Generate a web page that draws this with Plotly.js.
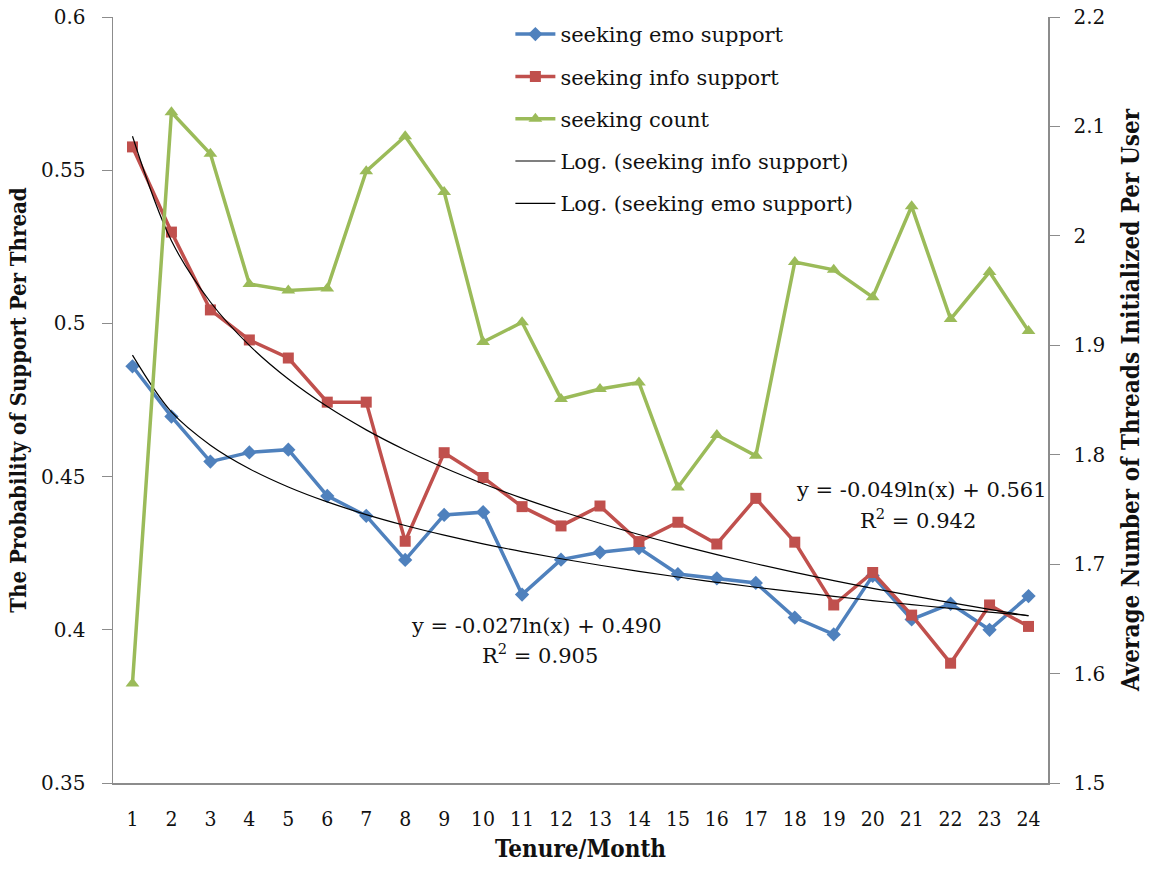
<!DOCTYPE html>
<html>
<head>
<meta charset="utf-8">
<script src="https://cdn.plot.ly/plotly-3.0.1.min.js"></script>
<style>html,body{margin:0;padding:0;background:#fff;}#chart{width:1152px;height:869px;}</style>
</head>
<body>
<div id="chart"></div>
<script>
// ---- data ----
const months = [1,2,3,4,5,6,7,8,9,10,11,12,13,14,15,16,17,18,19,20,21,22,23,24];
const emoSupport = [0.486,0.4696,0.4549,0.4579,0.4588,0.4437,0.4372,0.4228,0.4375,0.4384,0.4115,0.4229,0.4253,0.4267,0.4182,0.4168,0.4153,0.404,0.3985,0.4176,0.4034,0.4085,0.4,0.411];
const infoSupport = [0.5576,0.5298,0.5044,0.4946,0.4887,0.4743,0.4743,0.4289,0.4578,0.4497,0.4402,0.4339,0.4404,0.4288,0.4351,0.428,0.4429,0.4286,0.4081,0.4187,0.4048,0.3891,0.4081,0.4011];
const seekingCount = [1.591,2.113,2.075,1.956,1.950,1.952,2.059,2.091,2.040,1.903,1.921,1.851,1.860,1.866,1.770,1.818,1.799,1.976,1.969,1.944,2.027,1.924,1.967,1.913];
const seriesNames = ["seeking emo support","seeking info support","seeking count","Log. (seeking info support)","Log. (seeking emo support)"];
const eqInfo = ["y = -0.049ln(x) + 0.561","R<sup>2</sup> = 0.942"];
const eqEmo = ["y = -0.027ln(x) + 0.490","R<sup>2</sup> = 0.905"];

// logarithmic least-squares trend (as the spreadsheet trendline does)
function logFit(xs, ys){
  const n = xs.length; const lx = xs.map(Math.log);
  const mx = lx.reduce((a,b)=>a+b,0)/n, my = ys.reduce((a,b)=>a+b,0)/n;
  let sxy=0,sxx=0; for(let i=0;i<n;i++){sxy+=(lx[i]-mx)*(ys[i]-my);sxx+=(lx[i]-mx)**2;}
  const b = sxy/sxx, a = my-b*mx;
  return xs.map(x=>a+b*Math.log(x));
}
const infoTrend = logFit(months, infoSupport);
const emoTrend = logFit(months, emoSupport);

const BLUE='#4F81BD', RED='#C0504D', GREEN='#9BBB59';
const serif = 'DejaVu Serif';
const cond = 'DejaVu Serif Condensed';

const traces = [
  {x:months,y:emoSupport,name:seriesNames[0],mode:'lines+markers',line:{color:BLUE,width:3.5},marker:{symbol:'diamond',size:11,color:BLUE},legendgroup:'a'},
  {x:months,y:infoSupport,name:seriesNames[1],mode:'lines+markers',line:{color:RED,width:3.5},marker:{symbol:'square',size:11,color:RED},legendgroup:'b'},
  {x:months,y:seekingCount,name:seriesNames[2],mode:'lines+markers',yaxis:'y2',line:{color:GREEN,width:3.5},marker:{symbol:'triangle-up',size:12,color:GREEN},legendgroup:'c'},
  {x:months,y:infoTrend,name:seriesNames[3],mode:'lines',line:{color:'#000',width:1.2,shape:'spline'},legendgroup:'d'},
  {x:months,y:emoTrend,name:seriesNames[4],mode:'lines',line:{color:'#000',width:1.2,shape:'spline'},legendgroup:'e'}
];

const axisCol = '#8c8c8c';
const layout = {
  width:1152,height:869,
  margin:{l:113,r:104,t:17,b:86},
  paper_bgcolor:'#fff',plot_bgcolor:'#fff',
  showlegend:true,
  legend:{x:0.425,y:1.004,xanchor:'left',yanchor:'top',bgcolor:'rgba(0,0,0,0)',
    font:{family:serif,size:21,color:'#111'},traceorder:'grouped',tracegroupgap:12,itemwidth:40},
  xaxis:{range:[0.5,24.5],tickmode:'array',tickvals:months,ticktext:months.map(String),
    showgrid:false,zeroline:false,showline:true,linecolor:axisCol,linewidth:1.5,ticks:'',
    ticklabelstandoff:16,
    tickfont:{family:cond,size:21,color:'#111'},
    title:{text:'<b>Tenure/Month</b>',font:{family:cond,size:24,color:'#111'},standoff:10}},
  yaxis:{range:[0.35,0.6],dtick:0.05,tick0:0.35,showgrid:false,zeroline:false,showline:true,
    linecolor:axisCol,linewidth:1.5,ticks:'outside',ticklen:10,tickcolor:axisCol,
    ticklabelstandoff:12,
    tickfont:{family:serif,size:20,color:'#111'},
    title:{text:'<b>The Probability of Support Per Thread</b>',font:{family:cond,size:22,color:'#111'},standoff:8}},
  yaxis2:{range:[1.5,2.2],dtick:0.1,tick0:1.5,overlaying:'y',side:'right',showgrid:false,zeroline:false,
    showline:true,linecolor:axisCol,linewidth:1.5,ticks:'outside',ticklen:10,tickcolor:axisCol,
    ticklabelstandoff:10,
    tickfont:{family:serif,size:20,color:'#111'},
    title:{text:'<b>Average Number of Threads Initialized Per User</b>',font:{family:cond,size:24,color:'#111'},standoff:18}},
  annotations:[
    {xref:'x',yref:'y',x:21.26,y:0.4456,text:eqInfo[0],showarrow:false,font:{family:serif,size:21,color:'#111'}},
    {xref:'x',yref:'y',x:21.16,y:0.4362,text:eqInfo[1],showarrow:false,font:{family:serif,size:21,color:'#111'}},
    {xref:'x',yref:'y',x:11.38,y:0.4012,text:eqEmo[0],showarrow:false,font:{family:serif,size:21,color:'#111'}},
    {xref:'x',yref:'y',x:11.46,y:0.3921,text:eqEmo[1],showarrow:false,font:{family:serif,size:21,color:'#111'}}
  ]
};
Plotly.newPlot('chart',traces,layout,{displayModeBar:false,staticPlot:true});
</script>
</body>
</html>
